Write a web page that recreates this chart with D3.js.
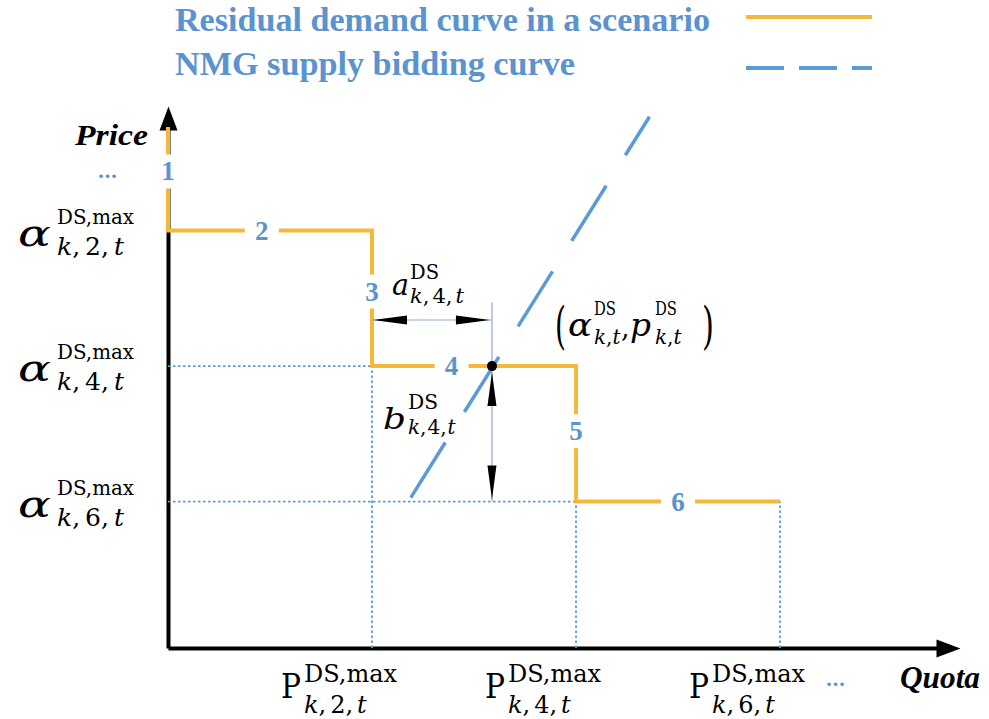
<!DOCTYPE html>
<html>
<head>
<meta charset="utf-8">
<script src="https://cdn.jsdelivr.net/npm/d3@7"></script>
<style>
  html, body { margin: 0; padding: 0; background: #ffffff; }
  svg { display: block; }
</style>
</head>
<body>
<svg id="chart" width="989" height="719"></svg>
<script>
// ---------------- data ----------------
const segmentIds   = ["1", "2", "3", "4", "5", "6"];
const stepIndex    = ["2", "4", "6"];          // step numbers used in tick labels
const stepQuota    = [1, 2, 3];                // P^{DS,max}_{k,i,t}
const stepPrice    = [3.08, 2.08, 1.08];       // α^{DS,max}_{k,i,t}
const priceTop     = 3.845;                    // upper end of segment 1
const supplyQuota  = [1.19, 2.36];             // NMG supply bidding curve
const supplyPrice  = [1.11, 3.92];
const clearingQuota = 1.588;                   // (α^{DS}_{k,t}, p^{DS}_{k,t})
const clearingPrice = 2.08;
const legendLabels = ["Residual demand curve in a scenario", "NMG supply bidding curve"];
const axisTitles   = ["Quota", "Price"];
const quotaMax = 3.843;
const priceMax = 3.94;

// ---------------- styles ----------------
const YELLOW = "#F4B83A";
const BLUE   = "#5B9BD5";
const TEXTBLUE = "#5B93CE";
const MATH = "'DejaVu Serif', 'Liberation Serif', serif";
const TIMES = "'Liberation Serif', serif";

const svg = d3.select("#chart");

const x = d3.scaleLinear().domain([0, quotaMax]).range([168, 952]);
const y = d3.scaleLinear().domain([0, priceMax]).range([648, 114]);

// arrowhead for the axes
const defs = svg.append("defs");
defs.append("marker")
  .attr("id", "axisArrow")
  .attr("markerUnits", "userSpaceOnUse")
  .attr("viewBox", "-17 -10 27 20")
  .attr("markerWidth", 27).attr("markerHeight", 20)
  .attr("refX", 0).attr("refY", 0)
  .attr("orient", "auto")
  .append("path")
  .attr("d", "M-16,-9 L8,0 L-16,9 Z")
  .attr("fill", "#000");

// ---------------- axes ----------------
const xAxis = svg.append("g").attr("transform", `translate(0,${y(0)})`)
  .call(d3.axisBottom(x).tickValues([]).tickSizeOuter(0));
const yAxis = svg.append("g").attr("transform", `translate(${x(0)},0)`)
  .call(d3.axisLeft(y).tickValues([]).tickSizeOuter(0));
[xAxis, yAxis].forEach(a => a.select(".domain")
  .attr("stroke", "#000").attr("stroke-width", 4).attr("fill", "none")
  .attr("marker-end", "url(#axisArrow)"));

// ---------------- dotted guides ----------------
const guides = svg.append("g")
  .attr("stroke", BLUE).attr("stroke-width", 1.8)
  .attr("stroke-dasharray", "2.5,2.5").attr("fill", "none");
stepQuota.forEach((q, i) => {
  guides.append("line")
    .attr("x1", x(0)).attr("x2", x(q))
    .attr("y1", y(stepPrice[i])).attr("y2", y(stepPrice[i]));
  guides.append("line")
    .attr("x1", x(q)).attr("x2", x(q))
    .attr("y1", y(0)).attr("y2", y(stepPrice[i]));
});

// ---------------- residual demand step curve ----------------
const demandPts = [[0, priceTop]];
stepQuota.forEach((q, i) => {
  const prevQ = i === 0 ? 0 : stepQuota[i - 1];
  demandPts.push([prevQ, stepPrice[i]]);
  demandPts.push([q, stepPrice[i]]);
});
const line = d3.line().x(d => x(d[0])).y(d => y(d[1]));
svg.append("path")
  .attr("d", line(demandPts))
  .attr("fill", "none").attr("stroke", YELLOW)
  .attr("stroke-width", 4).attr("stroke-linejoin", "miter");

// segment numbers, each sitting in a gap of the curve
const segFrac = [0.43, 0.46, 0.45, 0.39, 0.48, 0.5];
const segLabels = svg.append("g");
segmentIds.forEach((id, i) => {
  const a = demandPts[i], b = demandPts[i + 1];
  const t = segFrac[i];
  const px = x(a[0] + (b[0] - a[0]) * t);
  const py = y(a[1] + (b[1] - a[1]) * t);
  segLabels.append("rect")
    .attr("x", px - 17).attr("y", py - 17)
    .attr("width", 34).attr("height", 34).attr("fill", "#fff");
  segLabels.append("text")
    .attr("x", px).attr("y", py + 9)
    .attr("text-anchor", "middle")
    .attr("font-family", TIMES)
    .attr("font-weight", "bold").attr("font-size", 27)
    .attr("fill", TEXTBLUE)
    .text(id);
});

// ---------------- supply bidding curve ----------------
svg.append("path")
  .attr("d", line(supplyQuota.map((q, i) => [q, supplyPrice[i]])))
  .attr("fill", "none").attr("stroke", BLUE)
  .attr("stroke-width", 3.5).attr("stroke-dasharray", "65,36");

// ---------------- clearing-point annotations ----------------
const cx = x(clearingQuota), cy = y(clearingPrice);
const ann = svg.append("g");
const THIN = "#8FAACB";
ann.append("line").attr("x1", cx).attr("x2", cx)
  .attr("y1", y(2.55)).attr("y2", y(stepPrice[2]))
  .attr("stroke", THIN).attr("stroke-width", 1.2);
const aY = y(2.42);
ann.append("line").attr("x1", x(stepQuota[0])).attr("x2", cx)
  .attr("y1", aY).attr("y2", aY)
  .attr("stroke", THIN).attr("stroke-width", 1.2);

function arrowHead(tipX, tipY, dir) {
  // slender black arrowhead; dir = pointing direction in degrees
  ann.append("path")
    .attr("d", "M0,0 L-34,-4.5 L-34,4.5 Z")
    .attr("transform", `translate(${tipX},${tipY}) rotate(${dir})`)
    .attr("fill", "#000");
}
arrowHead(x(stepQuota[0]) + 1, aY, 180);
arrowHead(cx - 2, aY, 0);
arrowHead(cx, cy + 6, -90);
arrowHead(cx, y(stepPrice[2]) - 2, 90);

ann.append("circle").attr("cx", cx).attr("cy", cy).attr("r", 5).attr("fill", "#000");

// ---------------- math label helpers ----------------
// one tspan per character; letters italic when asked, extra space after commas
function mathRun(g, px, py, str, fs, italic, commaGap, width) {
  const t = g.append("text")
    .attr("x", px).attr("y", py)
    .attr("font-family", MATH).attr("font-size", fs).attr("fill", "#000");
  let afterComma = false;
  for (const ch of str) {
    const s = t.append("tspan")
      .attr("font-style", italic && /[a-zα-ω]/i.test(ch) ? "italic" : "normal")
      .text(ch);
    if (afterComma && commaGap) s.attr("dx", commaGap);
    afterComma = ch === ",";
  }
  if (width) t.attr("textLength", width).attr("lengthAdjust", "spacingAndGlyphs");
  return t;
}
function scripted(g, o) {
  mathRun(g, o.x, o.y, o.base, o.fs, o.baseItalic !== false, 0, o.bw);
  mathRun(g, o.sx, o.y + o.supDy, o.sup, o.supFs, false, 0, o.supW);
  mathRun(g, o.sx, o.y + o.subDy, o.sub, o.subFs, true, o.gap || 0, null);
}

const labels = svg.append("g");

// price tick labels α^{DS,max}_{k,i,t}
stepPrice.forEach((p, i) => {
  const py = y(p);
  scripted(labels, {
    x: 18, y: py + 15, base: "α", fs: 37, bw: 33,
    sx: 57, sup: "DS,max", supFs: 21, supW: 77, supDy: -22,
    sub: `k,${stepIndex[i]},t`, subFs: 25, gap: 5, subDy: 9
  });
});

// quota tick labels P^{DS,max}_{k,i,t}
stepQuota.forEach((q, i) => {
  const px = x(q);
  scripted(labels, {
    x: px - 91, y: 698, base: "P", baseItalic: false, fs: 33, bw: 20,
    sx: px - 68, sup: "DS,max", supFs: 24, supDy: -16,
    sub: `k,${stepIndex[i]},t`, subFs: 24, gap: 4, subDy: 15
  });
});

// a^{DS}_{k,4,t} above the horizontal arrow
scripted(labels, {
  x: x(stepQuota[0]) + 20, y: aY - 25, base: "a", fs: 30, bw: 17,
  sx: x(stepQuota[0]) + 38, sup: "DS", supFs: 20, supW: 29, supDy: -16,
  sub: `k,${stepIndex[1]},t`, subFs: 21, gap: 3, subDy: 8
});
// b^{DS}_{k,4,t} left of the vertical arrow
scripted(labels, {
  x: cx - 109, y: cy + 63, base: "b", fs: 30, bw: 23,
  sx: cx - 84, sup: "DS", supFs: 20, supW: 30, supDy: -20,
  sub: `k,${stepIndex[1]},t`, subFs: 20, gap: 1, subDy: 5
});

// (α^{DS}_{k,t}, p^{DS}_{k,t}) next to the clearing point
const ox = cx + 63, oy = cy - 30;
mathRun(labels, ox, oy + 7, "(", 50, false, 0, 11);
scripted(labels, {
  x: ox + 13, y: oy, base: "α", fs: 31, bw: 24,
  sx: ox + 39, sup: "DS", supFs: 18, supW: 22, supDy: -21,
  sub: "k,t", subFs: 20, gap: 0, subDy: 8
});
mathRun(labels, ox + 66, oy + 1, ",", 27, false, 0, null);
scripted(labels, {
  x: ox + 75, y: oy, base: "p", fs: 31, bw: 21,
  sx: ox + 100, sup: "DS", supFs: 18, supW: 22, supDy: -21,
  sub: "k,t", subFs: 20, gap: 0, subDy: 8
});
mathRun(labels, ox + 147, oy + 7, ")", 50, false, 0, 12);

// ---------------- axis titles and continuation dots ----------------
svg.append("text").attr("x", 900).attr("y", 688)
  .attr("font-family", TIMES)
  .attr("font-weight", "bold").attr("font-style", "italic")
  .attr("font-size", 31).attr("textLength", 80).attr("lengthAdjust", "spacingAndGlyphs")
  .text(axisTitles[0]);
svg.append("text").attr("x", 75).attr("y", 145)
  .attr("font-family", TIMES)
  .attr("font-weight", "bold").attr("font-style", "italic")
  .attr("font-size", 29).attr("textLength", 73).attr("lengthAdjust", "spacingAndGlyphs")
  .text(axisTitles[1]);
[[108, 178], [836, 686]].forEach(([dx, dy]) => {
  svg.append("text").attr("x", dx).attr("y", dy)
    .attr("text-anchor", "middle")
    .attr("font-family", TIMES)
    .attr("font-weight", "bold").attr("font-size", 22)
    .attr("letter-spacing", 1)
    .attr("fill", TEXTBLUE).text("...");
});

// ---------------- legend ----------------
const legend = svg.append("g");
legendLabels.forEach((txt, i) => {
  legend.append("text")
    .attr("x", 175).attr("y", 31 + i * 44)
    .attr("font-family", TIMES)
    .attr("font-weight", "bold").attr("font-size", 34)
    .attr("textLength", i === 0 ? 535 : 400).attr("lengthAdjust", "spacingAndGlyphs")
    .attr("fill", TEXTBLUE).text(txt);
});
legend.append("line").attr("x1", 746).attr("x2", 872).attr("y1", 17).attr("y2", 17)
  .attr("stroke", YELLOW).attr("stroke-width", 4);
legend.append("line").attr("x1", 746).attr("x2", 872).attr("y1", 68).attr("y2", 68)
  .attr("stroke", BLUE).attr("stroke-width", 4).attr("stroke-dasharray", "38,15");
</script>
</body>
</html>
